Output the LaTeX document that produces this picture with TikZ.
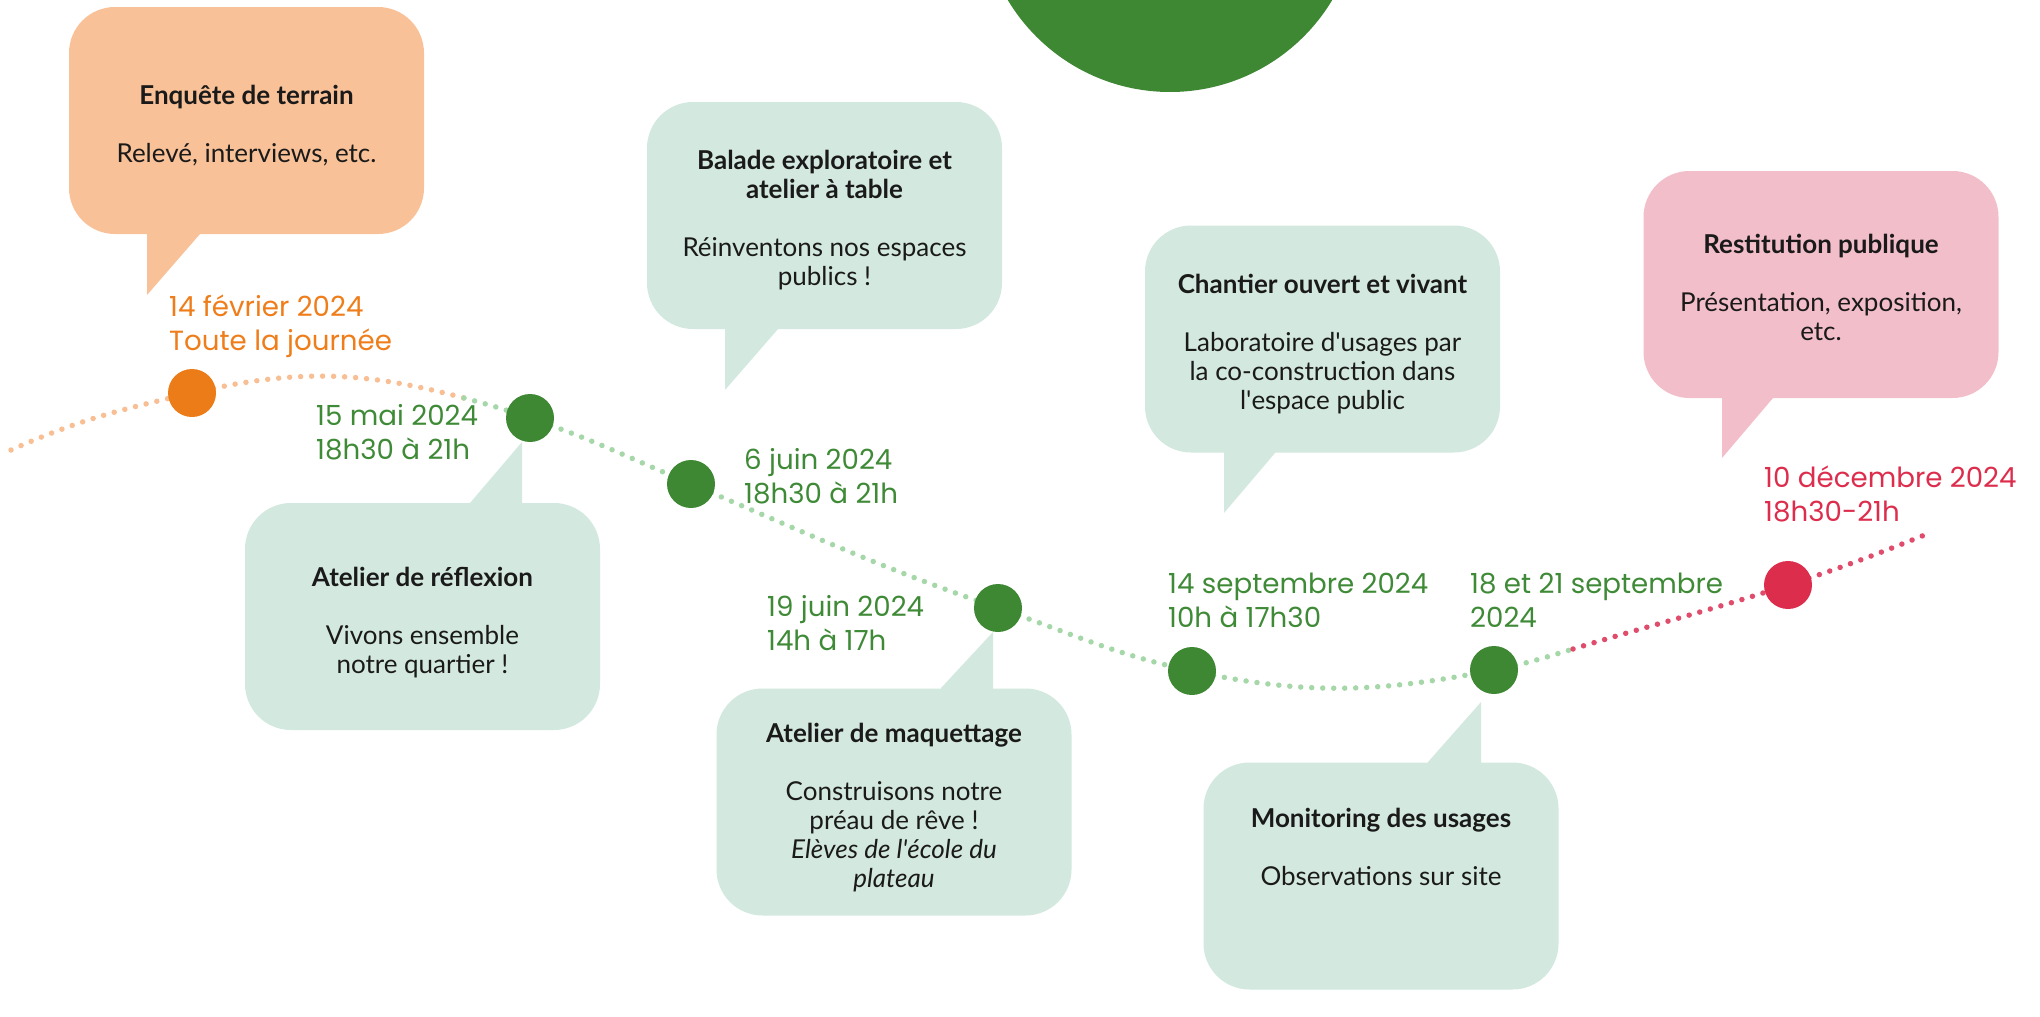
\documentclass[tikz,border=0pt]{standalone}
\usepackage{fontspec}
\newfontfamily\boxfont{Lato}
\newfontfamily\datefont{Poppins}
\definecolor{dgreen}{HTML}{3E8834}
\definecolor{mint}{HTML}{D3E8DE}
\definecolor{peach}{HTML}{F9C197}
\definecolor{rose}{HTML}{F2BECA}
\definecolor{orng}{HTML}{EB7C17}
\definecolor{orngtext}{HTML}{EE7D1A}
\definecolor{crimson}{HTML}{DD2D4D}
\definecolor{lorange}{HTML}{F8BF94}
\definecolor{lgreen}{HTML}{A6D7A8}
\definecolor{lred}{HTML}{DF4C6C}
\definecolor{gtext}{HTML}{3F8A37}
\definecolor{ink}{HTML}{1A1A1A}
\tikzset{
  bubble/.style={rectangle, rounded corners=46pt, minimum width=355pt, minimum height=227pt,
    inner sep=0pt},
  boxtxt/.style={inner sep=0pt, align=center, text=ink, font=\boxfont\fontsize{26}{29}\selectfont},
  datelab/.style={anchor=west, align=left, inner sep=0pt, font=\datefont\fontsize{27.7}{34}\selectfont},
  evdot/.style={circle, minimum size=48pt, inner sep=0pt},
  dotline/.style={line width=5.5pt, line cap=round, dash pattern=on 0pt off 11pt},
}
\begin{document}
\begin{tikzpicture}[x=1pt,y=1pt]
\useasboundingbox (0,0) rectangle (2040,-1017);
\clip (0,0) rectangle (2040,-1017);
% top disc
\node[circle, fill=dgreen, minimum size=378pt, inner sep=0pt] (topdisc) at (1170,97) {};
% path coordinates
\coordinate (s) at (11,-450);
\coordinate (t1) at (464,-398);
\coordinate (t2) at (1573,-649);
\coordinate (e) at (1932,-532);
% event dots (nodes)
\node[evdot] (o1) at (192,-393) {};
\node[evdot] (g1) at (530,-418) {};
\node[evdot] (g2) at (691,-484) {};
\node[evdot] (g3) at (998,-608) {};
\node[evdot] (g4) at (1192,-671) {};
\node[evdot] (g5) at (1494,-670) {};
\node[evdot] (r1) at (1788,-585) {};
% dotted timeline
\draw[dotline, lorange] (s) to[out=24,in=193] (o1.center);
\draw[dotline, lorange] (o1.center) to[out=13,in=165] (t1);
\draw[dotline, lgreen] (t1) to[out=-15,in=161] (g1.center);
\draw[dotline, lgreen] (g1.center) to[out=-19,in=157] (g2.center);
\draw[dotline, lgreen] (g2.center) to[out=-23,in=161] (g3.center);
\draw[dotline, lgreen] (g3.center) to[out=-19,in=168] (g4.center);
\draw[dotline, lgreen] (g4.center) to[out=-12,in=191] (g5.center);
\draw[dotline, lgreen] (g5.center) to[out=11,in=197] (t2);
\draw[dotline, lred] (t2) to[out=17,in=198] (r1.center);
\draw[dotline, lred] (r1.center) to[out=18,in=202] (e);
% dots drawn on top
\fill[orng] (o1) circle (24pt);
\foreach \n in {g1,g2,g3,g4,g5} \fill[dgreen] (\n) circle (24pt);
\fill[crimson] (r1) circle (24pt);
% bubbles
\node[bubble, fill=peach] (b1) at (246.5,-120.5) {};
\fill[peach] (147,-228) -- (147,-295) -- (200,-234) -- (200,-228) -- cycle;
\node[boxtxt] (b1t) at ([yshift=-5pt]b1.center)
  {\textbf{Enquête de terrain}\\[29pt]Relevé, interviews, etc.};

\node[bubble, fill=mint] (b2) at (824.5,-215.5) {};
\fill[mint] (725,-323) -- (725,-390) -- (778,-329) -- (778,-323) -- cycle;
\node[boxtxt] (b2t) at ([yshift=-5pt]b2.center)
  {\textbf{Balade exploratoire et}\\\textbf{atelier à table}\\[29pt]Réinventons nos espaces\\publics !};

\node[bubble, fill=mint] (b3) at (1322.5,-339) {};
\fill[mint] (1224,-447) -- (1224,-513) -- (1275,-453) -- (1275,-447) -- cycle;
\node[boxtxt] (b3t) at ([yshift=-5pt]b3.center)
  {\textbf{Chantier ouvert et vivant}\\[29pt]Laboratoire d\textquotesingle usages par\\la co-construction dans\\l\textquotesingle espace public};

\node[bubble, fill=rose] (b4) at (1821,-284.5) {};
\fill[rose] (1722,-392) -- (1722,-458) -- (1773,-398) -- (1773,-392) -- cycle;
\node[boxtxt] (b4t) at ([yshift=-3pt]b4.center)
  {\textbf{Restitution publique}\\[29pt]Présentation, exposition,\\etc.};

\node[bubble, fill=mint] (b5) at (422.5,-616.5) {};
\fill[mint] (470,-509) -- (470,-503) -- (522,-442) -- (522,-509) -- cycle;
\node[boxtxt] (b5t) at ([yshift=-6pt]b5.center)
  {\textbf{Atelier de réflexion}\\[29pt]Vivons ensemble\\notre quartier !};

\node[bubble, fill=mint] (b6) at (894,-802) {};
\fill[mint] (941,-694) -- (941,-688) -- (993,-632) -- (993,-694) -- cycle;
\node[boxtxt] (b6t) at ([yshift=-6pt]b6.center)
  {\textbf{Atelier de maquettage}\\[29pt]Construisons notre\\préau de rêve !\\\textit{Elèves de l\textquotesingle école du}\\\textit{plateau}};

\node[bubble, fill=mint] (b7) at (1381,-876) {};
\fill[mint] (1428,-768) -- (1428,-762) -- (1481,-702) -- (1481,-768) -- cycle;
\node[boxtxt] (b7t) at (1381,-847) {\textbf{Monitoring des usages}\\[29pt]Observations sur site};
% date labels
\node[datelab, text=orngtext] (d1) at (169,-326) {14 février 2024\\Toute la journée};
\node[datelab, text=gtext] (d2) at (316,-432) {15 mai 2024\\18h30 à 21h};
\node[datelab, text=gtext] (d3) at (744,-476) {6 juin 2024\\18h30 à 21h};
\node[datelab, text=gtext] (d4) at (767,-623) {19 juin 2024\\14h à 17h};
\node[datelab, text=gtext] (d5) at (1168,-600) {14 septembre 2024\\10h à 17h30};
\node[datelab, text=gtext] (d6) at (1470,-600) {18 et 21 septembre\\2024};
\node[datelab, text=crimson] (d7) at (1764,-494) {10 décembre 2024\\18h30-21h};
\end{tikzpicture}
\end{document}
